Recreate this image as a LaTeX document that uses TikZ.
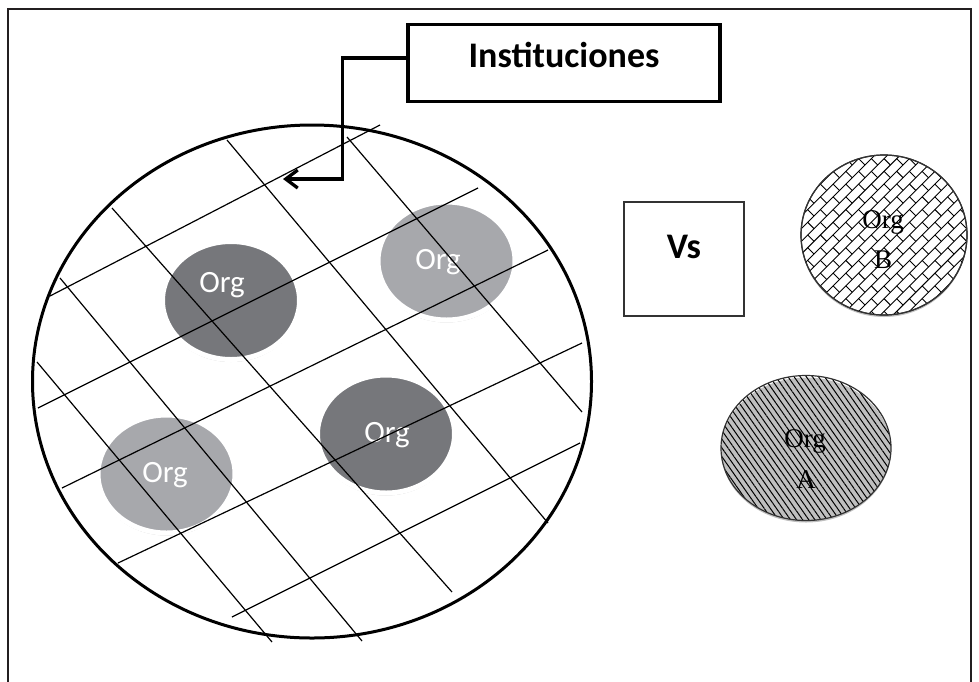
\documentclass[tikz,border=0pt]{standalone}
\usepackage{fontspec}
\setmainfont{Carlito}
\newfontfamily\letterfont{Liberation Serif}
\usetikzlibrary{positioning,shapes.geometric,arrows.meta,patterns.meta,shadows}

\definecolor{orgDark}{HTML}{76777B}
\definecolor{orgLight}{HTML}{A7A8AC}
\definecolor{rimGray}{HTML}{333333}
\definecolor{frameGray}{HTML}{231F20}

\tikzset{
  frameline/.style={draw=frameGray, line width=2pt},
  fieldset/.style={ellipse, draw=black, line width=3pt, inner sep=0pt},
  gridline/.style={draw=black, line width=1.2pt},
  orgdisc/.style={ellipse, draw=white, line width=5pt, inner sep=0pt,
    minimum width=137pt, minimum height=118pt,
    drop shadow={shadow xshift=0pt, shadow yshift=-2.5pt, fill=black, opacity=0.22}},
  orgtext/.style={anchor=base, text=white, font=\fontsize{31}{32}\selectfont},
  rivaldisc/.style={ellipse, draw=rimGray, line width=1.2pt, fill=white, inner sep=0pt,
    drop shadow={shadow xshift=0pt, shadow yshift=-2pt, fill=black, opacity=0.25}},
  rimline/.style={draw=rimGray, line width=1.2pt},
  brickline/.style={draw=black, line width=0.9pt},
  rivaltext/.style={anchor=base, font=\letterfont\fontsize{27}{30}\selectfont},
  titlebox/.style={draw=black, line width=3.3pt, inner sep=0pt,
    font=\bfseries\fontsize{36}{40}\selectfont},
  vsbox/.style={draw=rimGray, line width=1.3pt, inner sep=0pt,
    font=\bfseries\fontsize{36}{40}\selectfont},
}

\begin{document}
\begin{tikzpicture}[x=1pt, y=-1pt, line width=1pt, >={Straight Barb[length=12pt,width=18pt]}]
    \useasboundingbox (0,0) rectangle (979,681);
    \draw[frameline] (8,9) rectangle (971,700);

    % organisations inside the field
    \node[orgdisc, fill=orgDark] (orgD1) at (231,300.5) {};
    \node[orgdisc, fill=orgLight] (orgL1) at (446.5,261) {};
    \node[orgdisc, fill=orgLight] (orgL2) at (166.5,474) {};
    \node[orgdisc, fill=orgDark] (orgD2) at (386,434) {};
    \node[orgtext] (orgD1lbl) at (222,292) {Org};
    \node[orgtext] (orgL1lbl) at (438,269) {Org};
    \node[orgtext] (orgL2lbl) at (165,482) {Org};
    \node[orgtext] (orgD2lbl) at (387,442) {Org};

    \node[fieldset, minimum width=559pt, minimum height=513pt] (field) at (312,381.5) {};

    % grid of institutions
    \foreach \xa/\ya/\xb/\yb in {37/362/272/642, 60/278/362/641, 112/208/452/592,
        227/140/548/523, 347/137/582/412}
        \draw[gridline] (\xa,\ya) -- (\xb,\yb);
    \foreach \xa/\ya/\xb/\yb in {50/296/380/125, 38/408/478/188, 62/488/548/250,
        118/563/582/343, 232/617/580/443}
        \draw[gridline] (\xa,\ya) -- (\xb,\yb);

    \node[titlebox, minimum width=312pt, text height=43pt, text depth=33.5pt] (inst) at (564,63) {Instituciones};
    \coordinate (instTip) at (283,179);
    \draw[->, line width=3.3pt] ([yshift=5pt]inst.west) -- ++(-64,0) |- (instTip);

    \node[vsbox, minimum width=120pt, text height=56pt, text depth=58pt] (vs) at (684,259) {Vs};

    % rival organisations
    \node[rivaldisc, minimum width=166pt, minimum height=160pt] (orgB) at (884,235) {};
    \begin{scope}
        \clip (orgB.center) ellipse (83 and 80);
        \begin{scope}[shift={(orgB.center)}, rotate=45]
            \foreach \i in {-11,...,11} {
                \draw[brickline] (-130,\i*9) -- (130,\i*9);
                \foreach \j in {-8,...,8}
                    \draw[brickline] ({\j*18+9*mod(\i+20,2)},\i*9) -- ++(0,9);
            }
        \end{scope}
    \end{scope}
    \draw[rimline] (orgB.center) ellipse (83 and 80);
    \node[rivaltext] (orgBtop) at (883,228) {Org};
    \node[rivaltext] (orgBbot) at (883,268) {B};

    \node[rivaldisc, pattern={Lines[angle=-55,distance=5pt,line width=1pt]},
        minimum width=170pt, minimum height=145pt] (orgA) at (806,448) {};
    \node[rivaltext] (orgAtop) at (805,447) {Org};
    \node[rivaltext] (orgAbot) at (806,488) {A};
\end{tikzpicture}
\end{document}
